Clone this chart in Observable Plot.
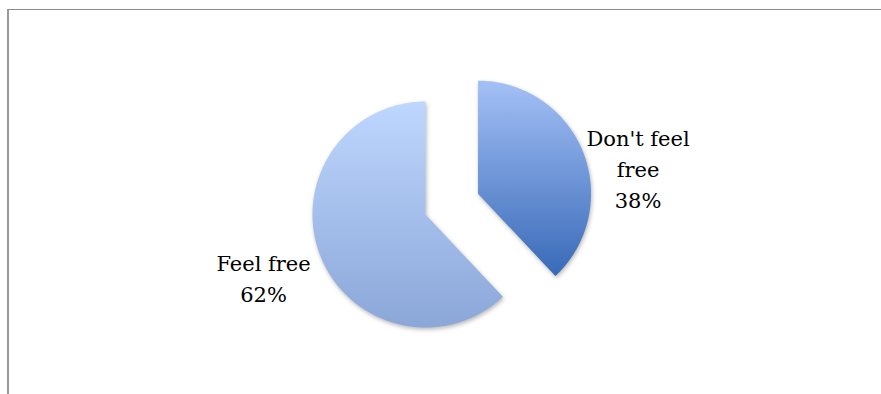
<!DOCTYPE html>
<html><head><meta charset="utf-8">
<script src="https://cdn.jsdelivr.net/npm/d3@7"></script>
<script src="https://cdn.jsdelivr.net/npm/@observablehq/plot@0.6"></script>
<style>
html,body{margin:0;padding:0;background:#fff;}
#wrap{position:relative;width:881px;height:394px;overflow:hidden;}
#frame{position:absolute;left:7px;top:9px;width:880px;height:400px;border-left:2px solid #9a9a9a;border-top:1px solid #8c8c8c;pointer-events:none;}
#chart svg{display:block;}
</style></head><body>
<div id="wrap"><div id="chart"></div><div id="frame"></div></div>
<script>
// Data
const categories = ["Don't feel free", "Feel free"];
const values = [38, 62];
const percentLabels = ["38%", "62%"];
const labelLines = [["Don't feel", "free"], ["Feel free"]];

// Layout (pixels / unit geometry)
const W = 881, H = 394;
const cxPx = 425, cyPx = 214, Rpx = 113;
const explode = [0.5, 0];
const labelRadius = [1.436, 1.535];
const labelAngleShift = [12, 0.6];
const gradients = [["#a4c0f6", "#386ab7"], ["#bed7ff", "#8ba7d8"]];

const total = d3.sum(values);
const rad = d => d * Math.PI / 180;
let acc = 0;
const slices = categories.map((c, i) => {
  const a0 = acc / total * 360;
  acc += values[i];
  const a1 = acc / total * 360;
  const mid = (a0 + a1) / 2;
  const ox = explode[i] * Math.sin(rad(mid));
  const oy = explode[i] * Math.cos(rad(mid));
  const pts = [{cat: c, x: ox, y: oy}];
  const n = Math.ceil(a1 - a0);
  for (let k = 0; k <= n; k++) {
    const a = a0 + (a1 - a0) * k / n;
    pts.push({cat: c, x: ox + Math.sin(rad(a)), y: oy + Math.cos(rad(a))});
  }
  pts.push({cat: c, x: ox, y: oy});
  const la = mid + labelAngleShift[i];
  const label = {
    text: [...labelLines[i], percentLabels[i]].join("\n"),
    x: ox + labelRadius[i] * Math.sin(rad(la)),
    y: oy + labelRadius[i] * Math.cos(rad(la))
  };
  return {cat: c, pts, label, grad: "url(#g" + i + ")"};
});

const svg = Plot.plot({
  width: W, height: H, margin: 0,
  x: {domain: [-cxPx / Rpx, (W - cxPx) / Rpx], axis: null},
  y: {domain: [-(H - cyPx) / Rpx, cyPx / Rpx], axis: null},
  marks: [
    ...slices.map(s => Plot.line(s.pts, {x: "x", y: "y", fill: s.grad, stroke: "none"})),
    Plot.text(slices.map(s => s.label), {
      x: "x", y: "y", text: "text", fontSize: 21, fontFamily: "DejaVu Serif",
      lineHeight: 31 / 21, fill: "#000", textAnchor: "middle", lineAnchor: "middle"
    })
  ]
});

const defs = d3.select(svg).insert("defs", ":first-child");
gradients.forEach((g, i) => {
  const lg = defs.append("linearGradient").attr("id", "g" + i)
    .attr("x1", 0).attr("y1", 0).attr("x2", 0).attr("y2", 1);
  lg.append("stop").attr("offset", "0%").attr("stop-color", g[0]);
  lg.append("stop").attr("offset", "100%").attr("stop-color", g[1]);
});
d3.select(svg).selectAll('g[aria-label="line"] path')
  .style("filter", "drop-shadow(1px 2px 2px rgba(0,0,0,0.28))");

document.getElementById("chart").appendChild(svg);
</script>
</body></html>
